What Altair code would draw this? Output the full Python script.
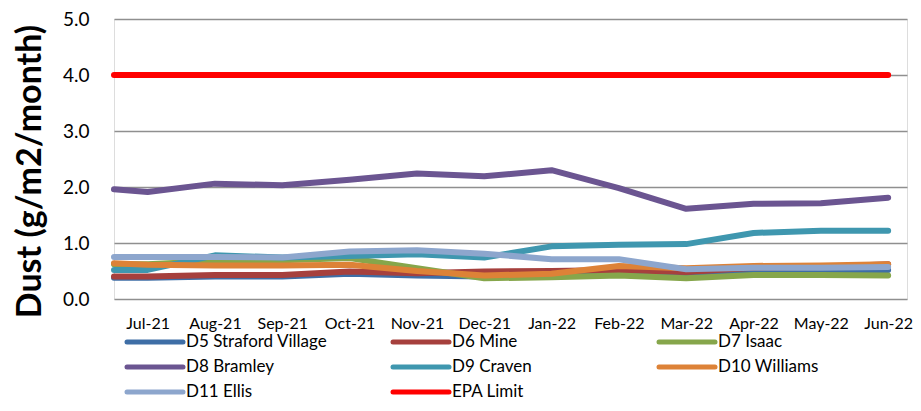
import altair as alt
import pandas as pd

months = ["Jul-21", "Aug-21", "Sep-21", "Oct-21", "Nov-21", "Dec-21",
          "Jan-22", "Feb-22", "Mar-22", "Apr-22", "May-22", "Jun-22"]

series = ["D5 Straford Village", "D6 Mine", "D7 Isaac", "D8 Bramley",
          "D9 Craven", "D10 Williams", "D11 Ellis", "EPA Limit"]
colors = ["#3E6EA6", "#A6403D", "#86A64B", "#6B5591",
          "#3F97AF", "#DD8237", "#8DA6CD", "#FF0000"]

# value where each line meets the left edge of the plot
edge_values = [0.38, 0.40, 0.62, 1.96, 0.52, 0.64, 0.75, 4.0]

d5 = [0.38, 0.40, 0.40, 0.45, 0.42, 0.40, 0.42, 0.43, 0.45, 0.52, 0.52, 0.52]
d6 = [0.40, 0.43, 0.43, 0.49, 0.46, 0.49, 0.50, 0.52, 0.48, 0.56, 0.57, 0.62]
d7 = [0.62, 0.68, 0.69, 0.73, 0.55, 0.37, 0.39, 0.42, 0.37, 0.43, 0.43, 0.42]
d8 = [1.91, 2.06, 2.03, 2.13, 2.24, 2.19, 2.30, 1.98, 1.61, 1.70, 1.71, 1.81]
d9 = [0.52, 0.78, 0.74, 0.77, 0.80, 0.74, 0.94, 0.97, 0.98, 1.18, 1.22, 1.22]
d10 = [0.61, 0.60, 0.60, 0.61, 0.50, 0.42, 0.45, 0.59, 0.55, 0.59, 0.60, 0.62]
d11 = [0.75, 0.75, 0.74, 0.85, 0.87, 0.81, 0.71, 0.71, 0.53, 0.56, 0.56, 0.57]
epa = [4.0] * 12

all_values = [d5, d6, d7, d8, d9, d10, d11, epa]

rows = []
for name, edge, vals in zip(series, edge_values, all_values):
    rows.append({"series": name, "idx": -0.5, "value": edge})
    for i, v in enumerate(vals):
        rows.append({"series": name, "idx": i, "value": v})
df = pd.DataFrame(rows)

# legend entries laid out in 3 columns, row by row
legend_df = pd.DataFrame({
    "series": series,
    "col": [i % 3 for i in range(len(series))],
    "row": [i // 3 for i in range(len(series))],
})

label_expr = "[" + ",".join("'%s'" % m for m in months) + "][datum.value]"
color_scale = alt.Scale(domain=series, range=colors)

lines = alt.Chart(df).mark_line(strokeWidth=6, strokeCap="round", strokeJoin="round").encode(
    x=alt.X("idx:Q",
            scale=alt.Scale(domain=[-0.5, 11.28], nice=False, zero=False),
            axis=alt.Axis(values=list(range(12)), labelExpr=label_expr, title=None,
                          grid=False, domain=False, ticks=False,
                          labelFont="Lato", labelFontSize=16, labelColor="#000000",
                          labelPadding=16, labelFlush=False, labelOverlap=False)),
    y=alt.Y("value:Q",
            scale=alt.Scale(domain=[0, 5], nice=False),
            axis=alt.Axis(values=[0, 1, 2, 3, 4, 5], format=".1f",
                          title="Dust (g/m2/month)", titleFont="Lato", titleFontSize=34,
                          titleFontWeight="bold", titleColor="#000000",
                          titleAngle=-90, titleX=-84, titleY=152,
                          titleAlign="center", titleBaseline="middle",
                          grid=True, gridColor="#8F8F8F", gridWidth=1.6,
                          domain=False, ticks=False,
                          labelFont="Lato", labelFontSize=19, labelColor="#000000",
                          labelPadding=25)),
    color=alt.Color("series:N", scale=color_scale, sort=series, legend=None),
)

leg_x = alt.X("col:Q", scale=alt.Scale(domain=[0, 1], range=[13, 279], nice=False, zero=False), axis=None)
leg_y = alt.Y("row:Q", scale=alt.Scale(domain=[0, 1], range=[323, 348], nice=False, zero=False), axis=None)

leg_symbols = alt.Chart(legend_df).mark_rule(strokeWidth=5, strokeCap="round", x2Offset=56).encode(
    x=leg_x, x2="col:Q", y=leg_y,
    color=alt.Color("series:N", scale=color_scale, legend=None),
)

leg_labels = alt.Chart(legend_df).mark_text(
    align="left", baseline="middle", dx=59, font="Lato", fontSize=17, color="#000000"
).encode(x=leg_x, y=leg_y, text="series:N")

chart = alt.layer(lines, leg_symbols, leg_labels).resolve_scale(
    x="independent", y="independent"
).properties(
    width=793,
    height=280,
    autosize=alt.AutoSizeParams(type="none"),
    padding={"left": 106, "top": 11, "right": 6, "bottom": 104},
).configure_view(stroke=None).configure(background="white")

chart.save("out.html", embed_options={"renderer": "svg", "actions": False})
